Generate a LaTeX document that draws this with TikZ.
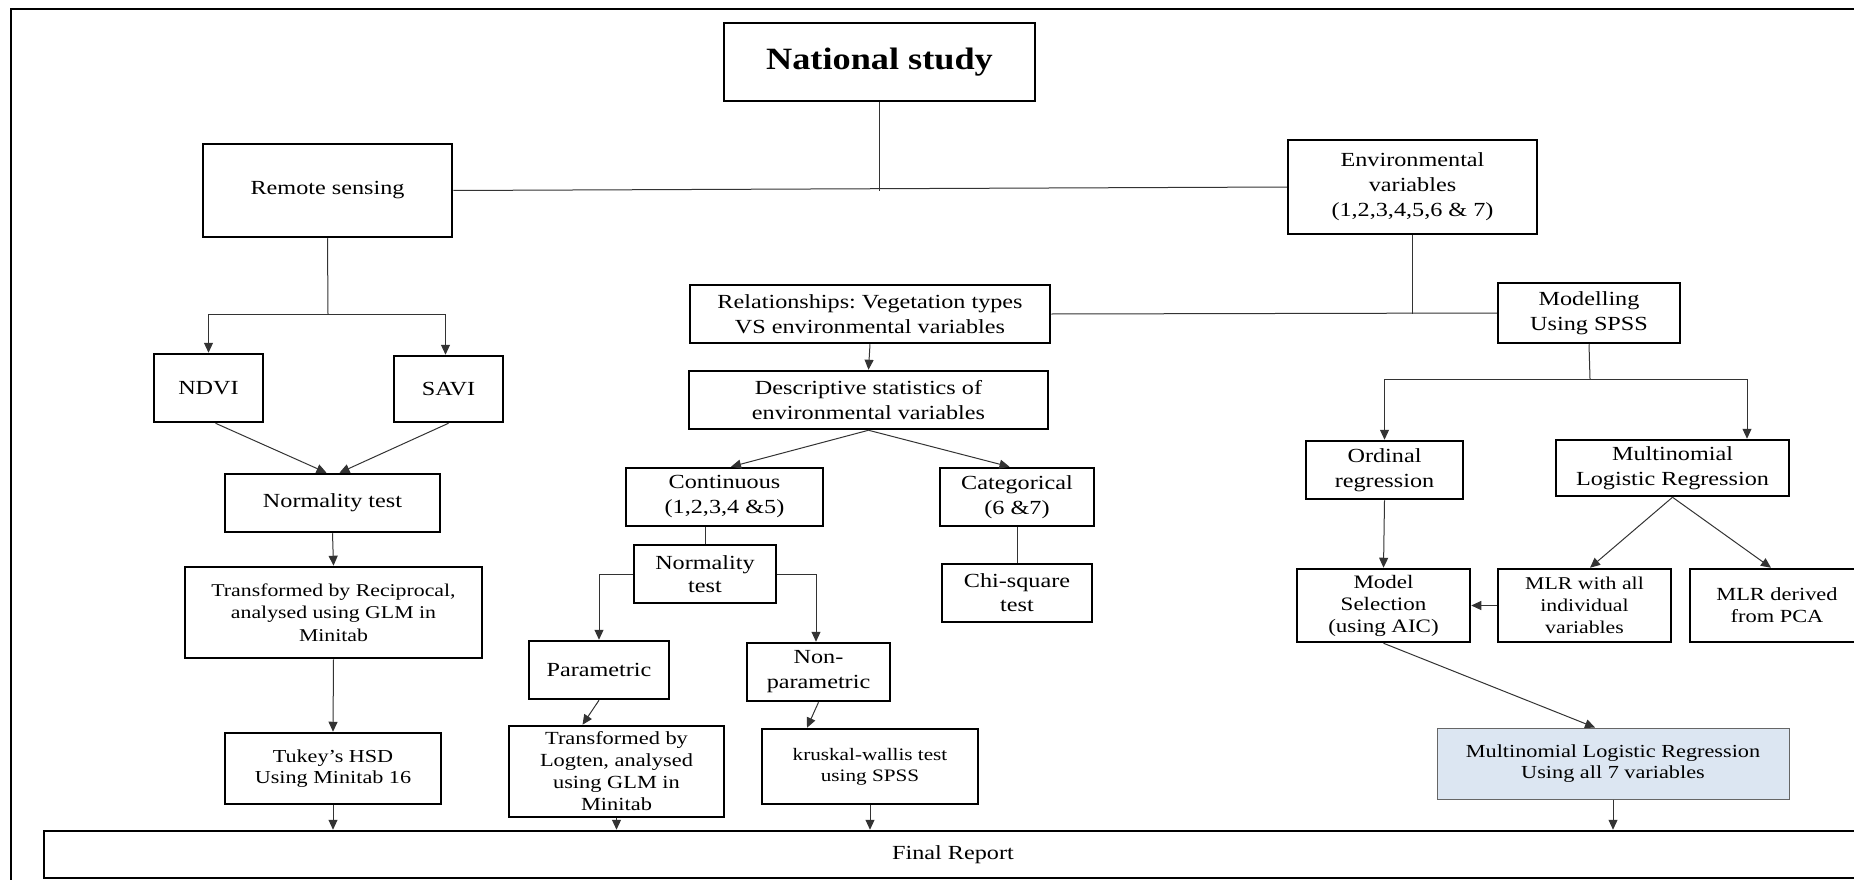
\documentclass[tikz,border=0pt]{standalone}
\usepackage{fontspec}
\setmainfont{Liberation Serif}[FakeStretch=1.21]
\newfontfamily\titlefont{Liberation Serif}[FakeStretch=1.17]
\usetikzlibrary{arrows.meta,calc}
\tikzset{
  bx/.style={draw, line width=2.5pt, rectangle, inner sep=0pt, align=center},
  conn/.style={line width=1pt, draw=black!80},
  arr/.style={conn, -{Triangle[length=10pt,width=9pt]}},
}
\newcommand{\fs}[2]{\fontsize{#1}{#2}\selectfont}
\begin{document}
\frenchspacing
\begin{tikzpicture}[x=1pt,y=-1pt,font=\fs{20}{25}]
\useasboundingbox (0,0) rectangle (1854,880);
\clip (0,0) rectangle (1854,880);
\draw[line width=1.8pt] (11,9) rectangle (1880,900);

% nodes
\node[bx, minimum width=311pt, minimum height=78pt] (nat) at (879.5,62) {\titlefont\fs{31}{34}\bfseries National study};
\node[bx, minimum width=249pt, minimum height=93pt] (rs) at (327.5,190.5) {Remote sensing};
\node[bx, minimum width=249pt, minimum height=94pt] (env) at (1412.5,187) {Environmental\\variables\\(1,2,3,4,5,6 \& 7)};
\node[bx, minimum width=360pt, minimum height=58pt] (rel) at (870,314) {Relationships: Vegetation types\\VS environmental variables};
\node[bx, minimum width=182pt, minimum height=60pt] (mod) at (1589,313) {Modelling\\Using SPSS};
\node[bx, minimum width=109pt, minimum height=68pt] (ndvi) at (208.5,388) {NDVI};
\node[bx, minimum width=109pt, minimum height=66pt] (savi) at (448.5,389) {SAVI};
\node[bx, minimum width=359pt, minimum height=58pt] (desc) at (868.5,400) {Descriptive statistics of\\environmental variables};
\node[bx, minimum width=215pt, minimum height=58pt] (norm1) at (332.5,503) {Normality test};
\node[bx, minimum width=197pt, minimum height=58pt] (cont) at (724.5,497) {Continuous\\(1,2,3,4 \&5)};
\node[bx, minimum width=154pt, minimum height=58pt] (cat) at (1017,497) {Categorical\\(6 \&7)};
\node[bx, minimum width=157pt, minimum height=58pt] (ord) at (1384.5,470) {Ordinal\\regression};
\node[bx, minimum width=233pt, minimum height=56pt] (mlr) at (1672.5,468) {Multinomial\\Logistic Regression};
\node[bx, minimum width=142pt, minimum height=58pt, font=\fs{20}{23.5}] (norm2) at (705,574) {Normality\\test};
\node[bx, minimum width=150pt, minimum height=58pt, font=\fs{20}{24.3}] (chi) at (1017,593) {Chi-square\\test};
\node[bx, minimum width=297pt, minimum height=91pt, font=\fs{18}{22.5}] (trec) at (333.5,612.5) {Transformed by Reciprocal,\\analysed using GLM in\\Minitab};
\node[bx, minimum width=173pt, minimum height=73pt, font=\fs{19}{22}] (msel) at (1383.5,605.5) {Model\\Selection\\(using AIC)};
\node[bx, minimum width=173pt, minimum height=73pt, font=\fs{18}{22}] (mlrall) at (1584.5,605.5) {MLR with all\\individual\\variables};
\node[bx, minimum width=174pt, minimum height=73pt, font=\fs{18.5}{21.7}] (mlrpca) at (1777,605.5) {MLR derived\\from PCA};
\node[bx, minimum width=140pt, minimum height=58pt] (par) at (599,670) {Parametric};
\node[bx, minimum width=143pt, minimum height=58pt] (npar) at (818.5,672) {Non-\\parametric};
\node[bx, minimum width=216pt, minimum height=71pt, font=\fs{18.3}{21.3}] (tukey) at (333,768.5) {Tukey’s HSD\\Using Minitab 16};
\node[bx, minimum width=215pt, minimum height=91pt, font=\fs{18.5}{22}] (tlog) at (616.5,771.5) {Transformed by\\Logten, analysed\\using GLM in\\Minitab};
\node[bx, minimum width=216pt, minimum height=75pt, font=\fs{17.5}{21.3}] (krus) at (870,766.5) {kruskal-wallis test\\using SPSS};
\node[bx, line width=1pt, draw=black!60, fill={rgb,255:red,220;green,230;blue,242}, minimum width=352pt, minimum height=71pt, font=\fs{18.4}{21.3}] (mlr7) at (1613,763.5) {Multinomial Logistic Regression\\Using all 7 variables};
\node[bx, minimum width=1818pt, minimum height=47pt] (final) at (953,854.5) {Final Report};

% top level connectors
\draw[conn] (rs.east) -- (env.west);
\draw[conn] (nat.south) -- (nat.south |- rs.east);
\draw[conn] (env.south) -- (env.south |- rel.east);
\draw[conn] (rel.east) -- (mod.west);

% remote sensing branch
\coordinate (j2) at (328,314);
\draw[conn] (rs.south) -- (j2);
\draw[arr] (j2) -| (ndvi.north);
\draw[arr] (j2) -| ($(savi.north)+(-3,0)$);
\draw[arr] ($(ndvi.south)+(7,0)$) -- ($(norm1.north)+(-6,0)$);
\draw[arr] (savi.south) -- ($(norm1.north)+(7,0)$);
\draw[arr] (norm1.south) -- (trec.north);
\draw[arr] (trec.south) -- (tukey.north);
\draw[arr] (tukey.south) -- (tukey.south |- final.north);

% middle branch
\draw[arr] (rel.south) -- (desc.north);
\draw[arr] (desc.south) -- ($(cont.north)+(6.5,0)$);
\draw[arr] (desc.south) -- ($(cat.north)+(-7.5,0)$);
\draw[conn] (norm2.north) -- (norm2.north |- cont.south);
\draw[conn] (cat.south) -- (chi.north);
\draw[arr] (norm2.west) -| (par.north);
\draw[arr] (norm2.east) -| ($(npar.north)+(-2.5,0)$);
\draw[arr] (par.south) -- ($(tlog.north)+(-34,0)$);
\draw[arr] (npar.south) -- ($(krus.north)+(-63,0)$);
\draw[arr] (tlog.south) -- (tlog.south |- final.north);
\draw[arr] (krus.south) -- (krus.south |- final.north);

% modelling branch
\coordinate (j3) at (1590,379);
\draw[conn] (mod.south) -- (j3);
\draw[arr] (j3) -| (ord.north);
\draw[arr] (j3) -| ($(mlr.north)+(74.5,0)$);
\draw[arr] (ord.south) -- (msel.north);
\draw[arr] (mlr.south) -- ($(mlrall.north)+(5.5,0)$);
\draw[arr] (mlr.south) -- ($(mlrpca.north)+(-6,0)$);
\draw[arr] (mlrall.west) -- (msel.east);
\draw[arr] (msel.south) -- ($(mlr7.north)+(-18,0)$);
\draw[arr] (mlr7.south) -- (mlr7.south |- final.north);
\end{tikzpicture}
\end{document}
